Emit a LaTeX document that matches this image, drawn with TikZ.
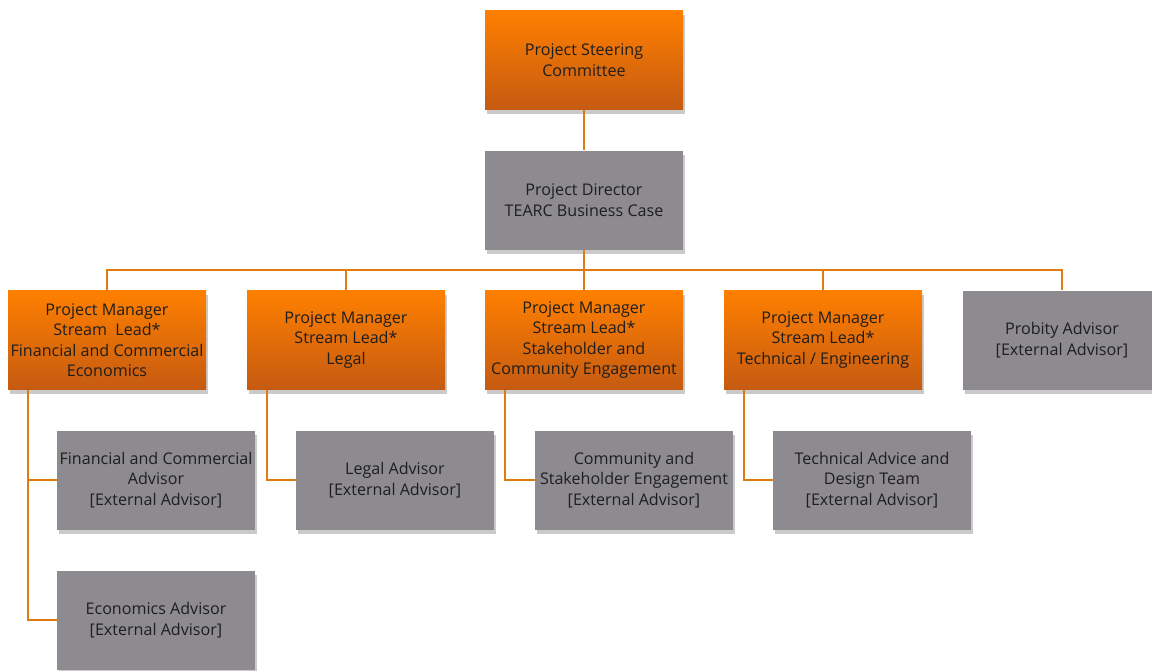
\documentclass[tikz,border=0pt]{standalone}
\usepackage{fontspec}
\setmainfont{Open Sans}
\usetikzlibrary{shadows,calc}
\definecolor{orT}{HTML}{FF8000}
\definecolor{orB}{HTML}{C55A11}
\definecolor{gbox}{HTML}{8D8B90}
\definecolor{lnc}{HTML}{E07B10}
\definecolor{txt}{HTML}{1E1E1E}
\tikzset{
  base/.style={minimum width=198pt, minimum height=99pt, inner sep=2pt, align=center,
    text=txt, font=\fontsize{16.1}{20.5}\selectfont,
    drop shadow={shadow xshift=2pt, shadow yshift=-4pt, opacity=0.35, fill=black!60}},
  obox/.style={base, top color=orT, bottom color=orB},
  gray box/.style={base, fill=gbox},
  conn/.style={draw=lnc, line width=1.6pt}
}
\begin{document}
\begin{tikzpicture}[x=1pt,y=-1pt]
\useasboundingbox (0,0) rectangle (1152,670);
\clip (0,0) rectangle (1152,670);
\node[obox] (psc) at (584,60) {Project Steering\\Committee};
\node[gray box] (pd) at (584,200) {Project Director\\TEARC Business Case};
\node[obox] (m1) at (107,340) {Project Manager\\Stream\ \ Lead*\\Financial and Commercial\\Economics};
\node[obox] (m2) at (346,340) {Project Manager\\Stream Lead*\\Legal};
\node[obox] (m3) at (584,340) {Project Manager\\Stream Lead*\\Stakeholder and\\Community Engagement};
\node[obox] (m4) at (823,340) {Project Manager\\Stream Lead*\\Technical / Engineering};
\node[gray box] (pa) at (1062,340) {Probity Advisor\\{[External Advisor]}};
\node[gray box] (a1) at (156,480) {Financial and Commercial\\Advisor\\{[External Advisor]}};
\node[gray box] (a2) at (156,620) {Economics Advisor\\{[External Advisor]}};
\node[gray box] (b1) at (395,480) {Legal Advisor\\{[External Advisor]}};
\node[gray box] (c1) at (634,480) {Community and\\Stakeholder Engagement\\{[External Advisor]}};
\node[gray box] (d1) at (872,480) {Technical Advice and\\Design Team\\{[External Advisor]}};
\coordinate (bus) at (584,270);
\draw[conn] (psc.south) -- (pd.north);
\draw[conn] (pd.south) -- (bus);
\draw[conn] (m1.north) |- (bus);
\draw[conn] (m2.north) |- (bus);
\draw[conn] (m3.north) |- (bus);
\draw[conn] (m4.north) |- (bus);
\draw[conn] (pa.north) |- (bus);
\coordinate (l1) at ($(m1.south west)+(20,0)$);
\coordinate (l2) at ($(m2.south west)+(20,0)$);
\coordinate (l3) at ($(m3.south west)+(20,0)$);
\coordinate (l4) at ($(m4.south west)+(20,0)$);
\draw[conn] (l1) |- (a2.west);
\draw[conn] (l1 |- a1.west) -- (a1.west);
\draw[conn] (l2) |- (b1.west);
\draw[conn] (l3) |- (c1.west);
\draw[conn] (l4) |- (d1.west);
\end{tikzpicture}
\end{document}
